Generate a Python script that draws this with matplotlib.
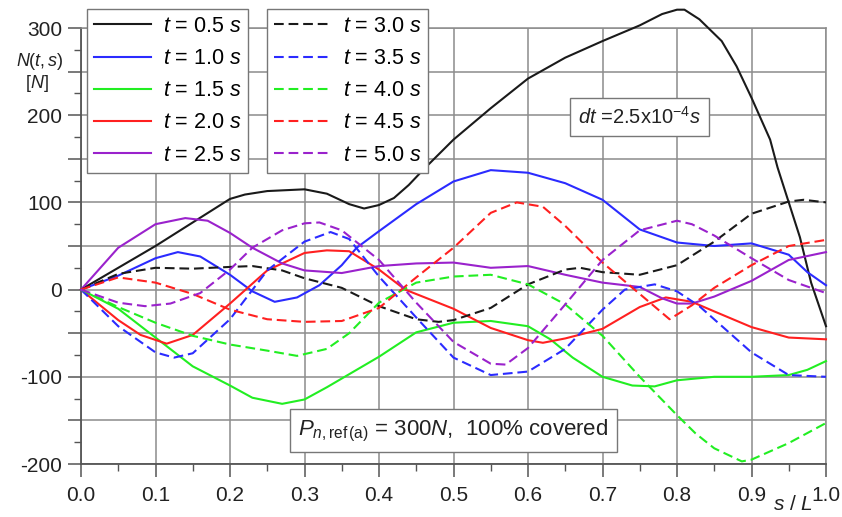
import matplotlib
matplotlib.use("Agg")
import matplotlib.pyplot as plt

plt.rcParams['font.family'] = ['Liberation Sans', 'DejaVu Sans']
plt.rcParams['mathtext.fontset'] = 'custom'
plt.rcParams['mathtext.rm'] = 'Liberation Sans'
plt.rcParams['mathtext.it'] = 'Liberation Sans:italic'
plt.rcParams['mathtext.bf'] = 'Liberation Sans:bold'
plt.rcParams['lines.scale_dashes'] = False

# ---- data:  s/L  and  N(t,s) [N] ----
s_05 = [0, .05, .1, .15, .2, .22, .25, .3, .33, .36, .38, .4, .42, .44, .46, .48, .5, .55, .6, .65, .7, .75, .78, .8, .81, .83, .86, .88, .9, .925, .935, .95, .965, .98, 1.0]
N_05 = [0, 25, 50, 77, 104, 109, 113, 115, 110, 98, 93, 97, 105, 120, 138, 155, 172, 208, 242, 266, 285, 303, 316, 321, 321, 310, 285, 256, 220, 172, 140, 100, 60, 8, -42]

s_10 = [0, .05, .1, .13, .16, .2, .23, .26, .29, .32, .35, .37, .4, .45, .5, .55, .6, .65, .7, .75, .8, .85, .9, .95, .975, 1.0]
N_10 = [0, 16, 36, 43, 38, 17, -2, -14, -9, 5, 28, 48, 67, 98, 124, 137, 134, 122, 103, 69, 54, 50, 53, 40, 20, 5]

s_15 = [0, .05, .1, .15, .2, .23, .27, .3, .33, .36, .4, .45, .5, .55, .6, .63, .66, .7, .74, .77, .8, .85, .9, .95, .975, 1.0]
N_15 = [0, -22, -55, -88, -110, -124, -131, -126, -112, -97, -77, -49, -38, -36, -42, -57, -78, -100, -110, -111, -104, -100, -100, -98, -92, -82]

s_20 = [0, .05, .08, .115, .15, .2, .25, .3, .33, .36, .4, .435, .5, .55, .6, .62, .65, .7, .75, .785, .82, .85, .9, .95, 1.0]
N_20 = [0, -35, -52, -62, -52, -16, 22, 42, 45, 44, 23, 0, -22, -44, -58, -61, -56, -45, -20, -9, -14, -25, -43, -55, -57]

s_25 = [0, .05, .1, .14, .17, .2, .23, .27, .3, .35, .4, .45, .5, .55, .6, .65, .7, .75, .78, .8, .82, .85, .9, .95, 1.0]
N_25 = [0, 48, 75, 82, 79, 65, 48, 30, 22, 19, 27, 30, 31, 25, 27, 17, 8, 3, -10, -16, -16, -8, 10, 34, 43]

s_30 = [0, .05, .1, .15, .2, .23, .27, .3, .35, .4, .45, .48, .5, .55, .6, .65, .67, .7, .75, .8, .85, .9, .95, .97, 1.0]
N_30 = [0, 18, 25, 24, 26, 27, 22, 13, 2, -19, -34, -37, -35, -21, 6, 23, 25, 20, 17, 28, 55, 87, 101, 103, 100]

s_35 = [0, .05, .1, .125, .15, .2, .25, .3, .335, .36, .4, .45, .5, .55, .6, .65, .7, .73, .77, .8, .83, .9, .95, 1.0]
N_35 = [0, -42, -72, -78, -73, -34, 22, 55, 66, 58, 15, -32, -78, -98, -94, -68, -23, 0, 6, -2, -19, -72, -98, -100]

s_40 = [0, .05, .1, .15, .2, .25, .29, .33, .36, .4, .45, .5, .55, .6, .65, .7, .75, .8, .825, .85, .887, .9, .95, 1.0]
N_40 = [0, -20, -38, -53, -63, -70, -76, -68, -50, -15, 8, 15, 17, 6, -17, -53, -100, -144, -165, -182, -197, -195, -176, -153]

s_45 = [0, .05, .1, .15, .2, .25, .3, .35, .4, .45, .5, .55, .585, .62, .65, .7, .75, .79, .82, .85, .9, .95, 1.0]
N_45 = [0, 14, 8, -5, -23, -34, -37, -36, -21, 14, 48, 88, 100, 95, 73, 31, -5, -34, -18, 2, 28, 50, 57]

s_50 = [0, .05, .086, .12, .16, .2, .23, .27, .3, .32, .35, .4, .45, .5, .55, .57, .6, .65, .7, .75, .8, .82, .85, .9, .95, 1.0]
N_50 = [0, -15, -19, -16, -4, 23, 48, 68, 76, 77, 68, 34, -15, -60, -85, -86, -67, -17, 34, 68, 79, 75, 62, 36, 11, -4]

times = [0.5, 1.0, 1.5, 2.0, 2.5, 3.0, 3.5, 4.0, 4.5, 5.0]
s_all = [s_05, s_10, s_15, s_20, s_25, s_30, s_35, s_40, s_45, s_50]
N_all = [N_05, N_10, N_15, N_20, N_25, N_30, N_35, N_40, N_45, N_50]
colors = ['#1a1a1a', '#2b2bff', '#22ee22', '#ff2020', '#9a22cc'] * 2

fig = plt.figure(figsize=(8.42, 5.17), dpi=100)
ax = fig.add_axes([81/842, 1-464/517, 745/842, 436/517])

lines = []
for i in range(10):
    ls = '-' if i < 5 else (0, (7, 3.5))
    ln, = ax.plot(s_all[i], N_all[i], color=colors[i], lw=1.5, linestyle=ls,
                  clip_on=False, label=f"$t$ = {times[i]:.1f} $s$", zorder=3)
    lines.append(ln)

ax.set_xlim(0, 1.0)
ax.set_ylim(-200, 300)
ax.set_xticks([i/10 for i in range(11)])
ax.set_xticklabels([f"{i/10:.1f}" for i in range(11)])
ax.set_xticks([0.05 + i/10 for i in range(10)], minor=True)
ax.set_yticks(range(-200, 301, 50))
ax.set_yticklabels([str(v) if v % 100 == 0 else '' for v in range(-200, 301, 50)])
ax.set_yticks(range(-175, 300, 50), minor=True)
ax.grid(True, which='major', color='#8c8c8c', lw=1.1)
ax.tick_params(which='major', length=9.5, width=1.1, color='#555555', labelsize=15, labelcolor='#222222')
ax.tick_params(which='minor', length=5, width=1.0, color='#555555')
ax.tick_params(axis='x', pad=6)
ax.tick_params(axis='y', pad=4)
for side in ['left', 'bottom']:
    ax.spines[side].set_color('#555555')
    ax.spines[side].set_linewidth(1.3)
for side in ['top', 'right']:
    ax.spines[side].set_color('#8c8c8c')
    ax.spines[side].set_linewidth(1.1)

leg_kw = dict(loc='upper left', bbox_transform=fig.transFigure, borderaxespad=0,
              fontsize=15.5, handlelength=2.65, handletextpad=0.55, labelspacing=0.52,
              borderpad=0.32, fancybox=False, framealpha=1, edgecolor='#777777')
leg1 = ax.legend(handles=lines[:5], bbox_to_anchor=(87/842, 1-9/517), **leg_kw)
leg1.get_frame().set_linewidth(1.0)
ax.add_artist(leg1)
leg2 = ax.legend(handles=lines[5:], bbox_to_anchor=(267/842, 1-9/517), **leg_kw)
leg2.get_frame().set_linewidth(1.0)
leg1.set_zorder(5)
leg2.set_zorder(5)

box = dict(boxstyle='square,pad=0.4', fc='white', ec='#777777', lw=1.0)
ax.text(0.75, 198, r"$dt$ =2.5x$\mathrm{10}^{\mathrm{-4}}s$", fontsize=14.5, ha='center', va='center',
        bbox=box, zorder=6, color='#222222')
ax.text(0.5, -162, r"$P_{n,\mathrm{ref\,(a)}}$ = 300$N$,  100% covered", fontsize=16, ha='center', va='center',
        bbox=dict(boxstyle='square,pad=0.38', fc='white', ec='#777777', lw=1.0), zorder=6, color='#222222')

fig.text(40/842, 1-62/517, r"$N(t,s)$", fontsize=13, ha='center', va='center', color='#222222')
fig.text(37/842, 1-84/517, r"[$N$]", fontsize=13, ha='center', va='center', color='#222222')
fig.text(793/842, 1-504/517, r"$s$ / $L$", fontsize=15, ha='center', va='center', color='#222222')

fig.savefig('out.png', dpi=100)
